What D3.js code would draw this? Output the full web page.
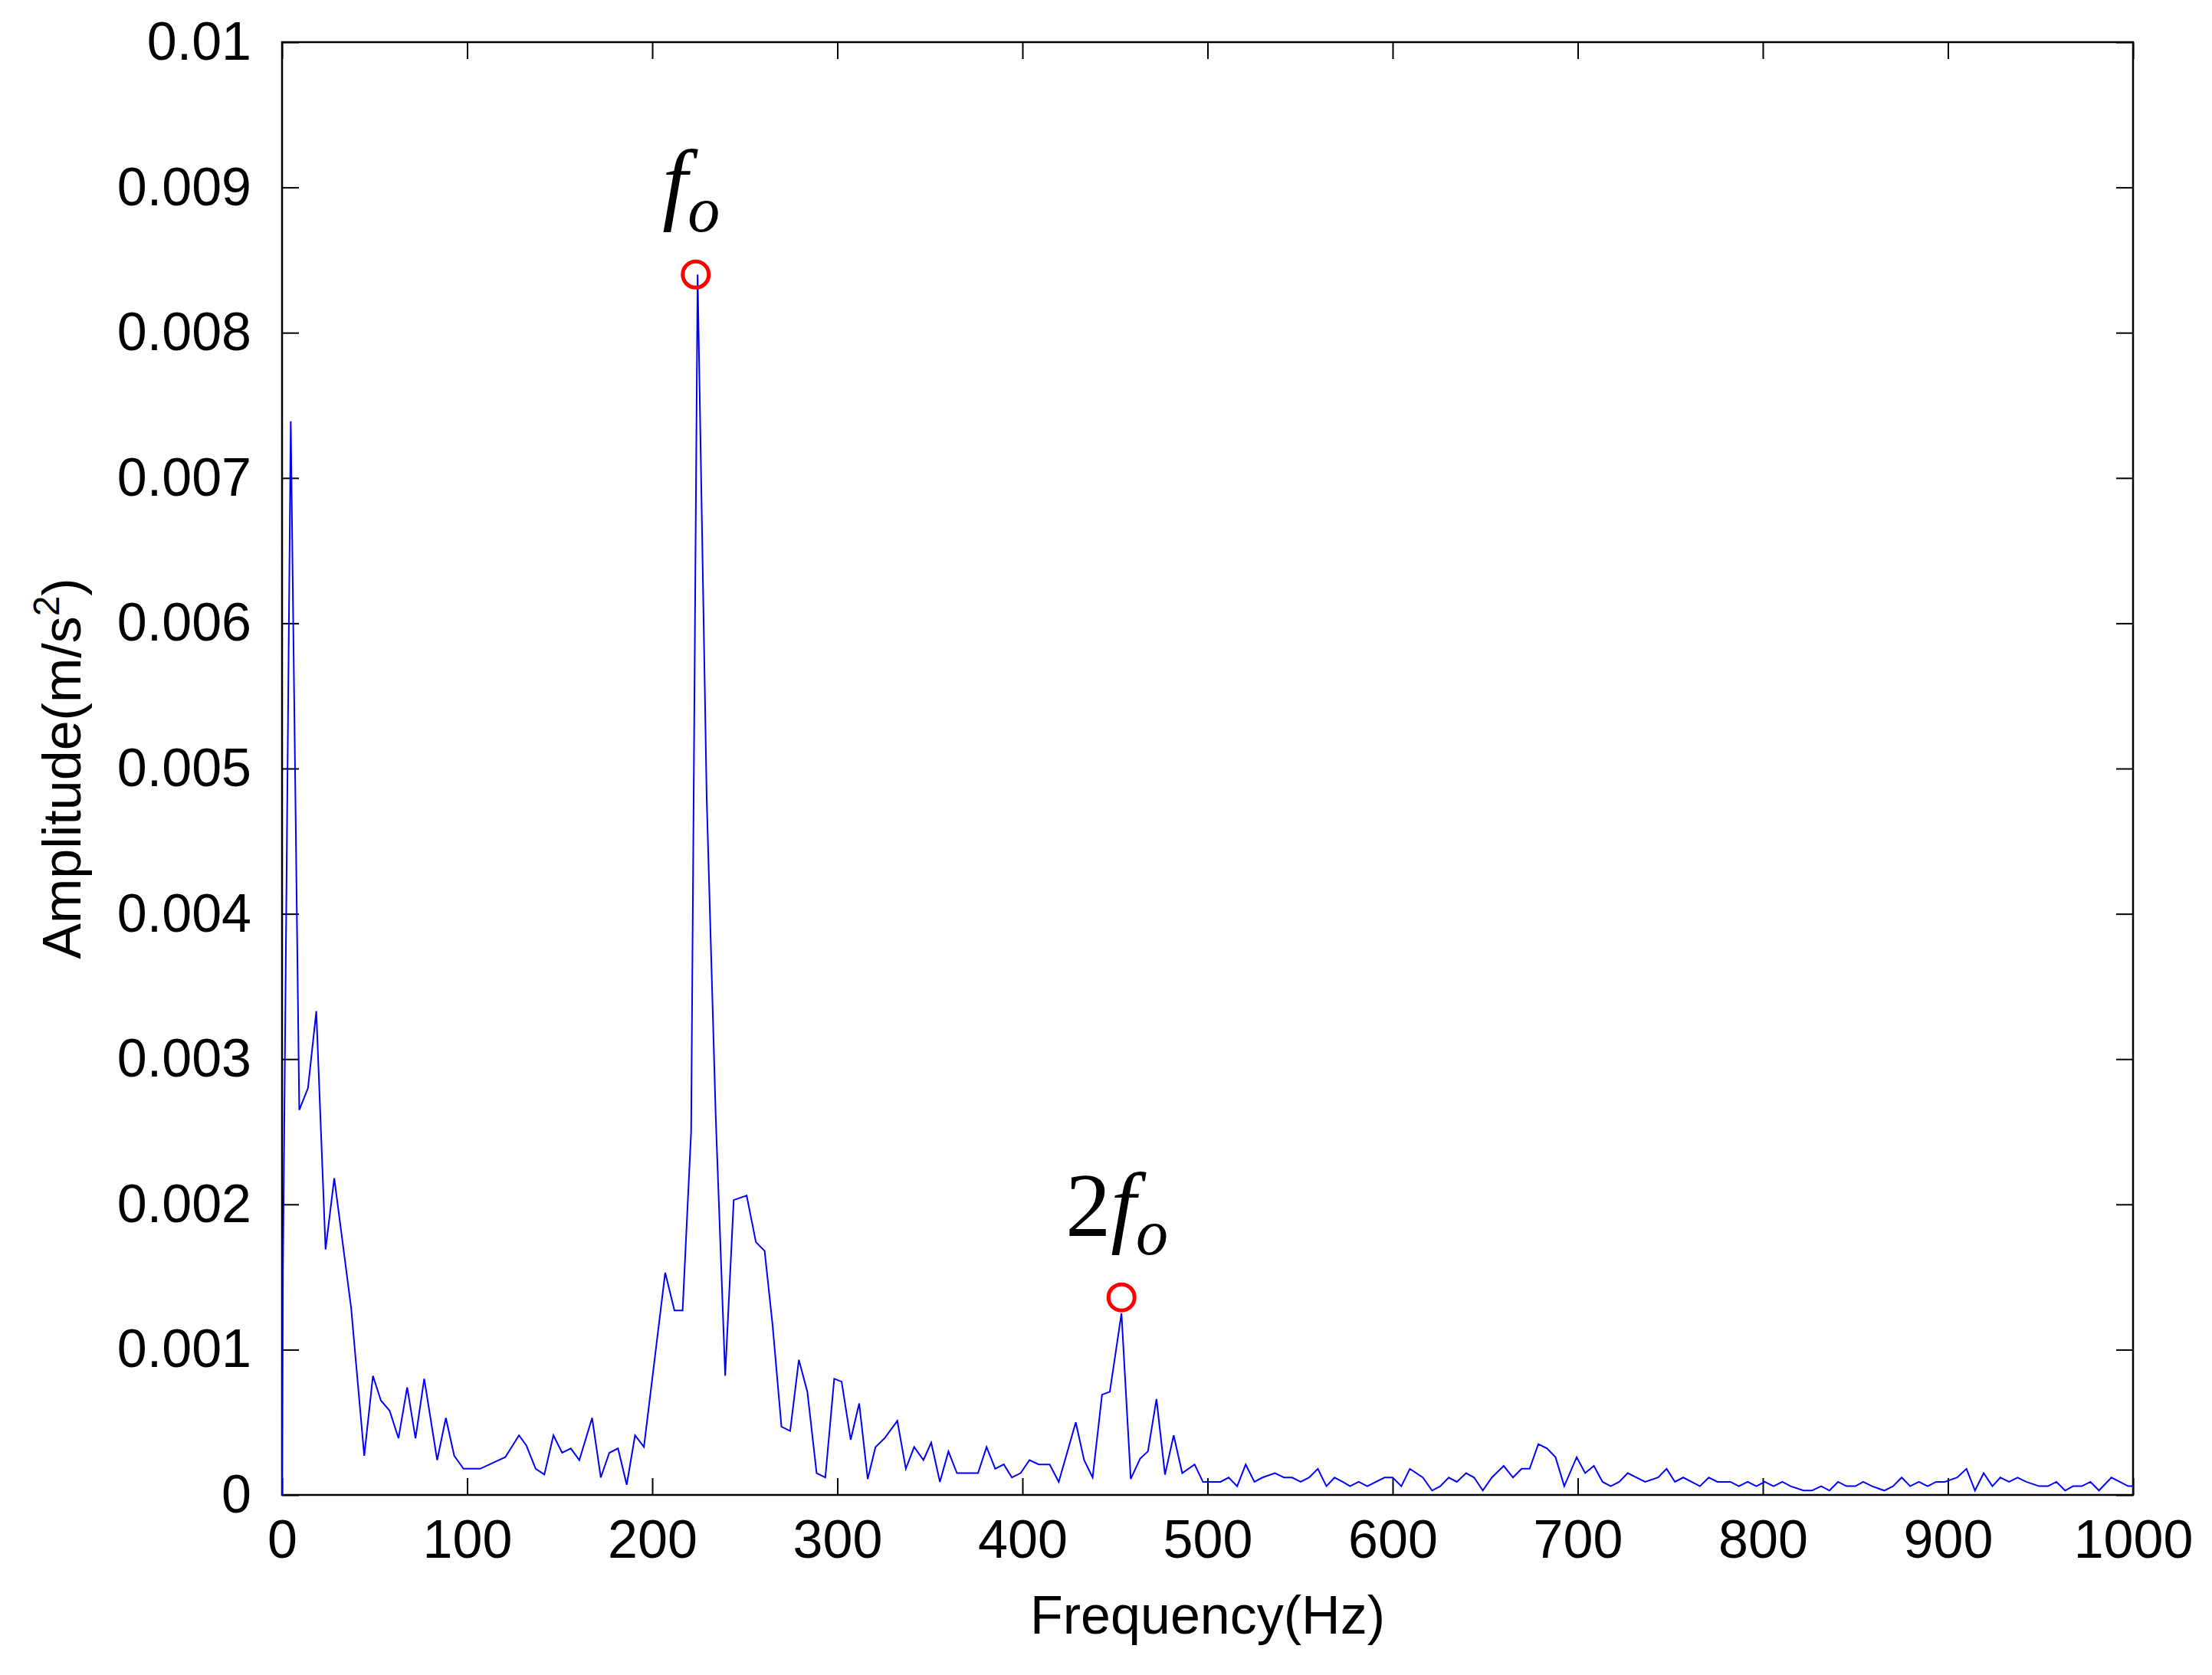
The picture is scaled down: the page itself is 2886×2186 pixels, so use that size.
<!DOCTYPE html>
<html>
<head>
<meta charset="UTF-8">
<style>
  * { margin: 0; padding: 0; overflow: hidden; }
  body { background: #fff; }
</style>
<script src="https://d3js.org/d3.v7.min.js"></script>
</head>
<body>
<script>
// frequency (Hz) and amplitude (m/s^2)
const freq = [0, 0.5, 4.7, 9.3, 14, 18.5, 23.5, 28.2, 37.3, 44.4, 49.1, 53.4, 58.1, 62.9, 67.6, 72.1, 76.8, 83.8, 88.5, 93, 98, 107, 120.6, 128, 132, 137, 141.7, 146.6, 151.3, 156, 160.6, 167.5, 172.2, 176.8, 181.5, 186.2, 190.7, 195.5, 207, 212, 216.4, 221, 224.5, 229.4, 234.3, 239.4, 244, 251, 256, 260.7, 265, 269.8, 274.5, 279.2, 283.8, 288.8, 293.5, 298.3, 302.3, 307.2, 311.8, 316.4, 320.6, 325.5, 332.4, 337, 341.5, 346.5, 350.7, 355.4, 360, 364.6, 376, 380.6, 385.3, 389.9, 394.3, 399, 403.8, 408.8, 414.7, 419.6, 428.8, 433.3, 437.9, 443, 447.2, 453.5, 458.5, 463.6, 467.8, 472.4, 477, 481.7, 486.3, 493, 497.5, 507, 511.4, 516, 520.6, 525.3, 529.7, 536.4, 541.3, 545.7, 550.3, 554.9, 559.6, 564.2, 568.6, 573, 577, 581.6, 586.3, 595.6, 600, 604.7, 609.3, 616.3, 621.3, 625.7, 630.3, 634.7, 639.7, 644, 648.7, 653.6, 660, 665, 669.7, 674, 678.7, 683.4, 688, 692.7, 699.4, 704, 708.7, 713.4, 717.8, 722.4, 727, 736.4, 743.4, 748, 752.5, 757, 766, 770.8, 775.5, 782.5, 787, 791.8, 796.5, 801, 805.8, 810.5, 815, 822, 826.5, 831.5, 836, 840.6, 845.2, 850, 854.2, 859, 865.6, 870.3, 875, 879.6, 884.3, 889, 893.6, 898.3, 905, 910, 914.6, 919.3, 924, 928.3, 933, 937.6, 942.3, 949.3, 954, 958.6, 963.3, 967.6, 972.3, 977, 981.6, 988.3, 997.4, 1000];
const amp = [0, 0.00157, 0.00739, 0.00265, 0.0028, 0.00333, 0.00169, 0.00218, 0.00129, 0.00027, 0.00082, 0.00065, 0.00058, 0.00039, 0.00074, 0.00039, 0.0008, 0.00024, 0.00053, 0.00027, 0.00018, 0.00018, 0.00026, 0.00041, 0.00034, 0.00018, 0.00014, 0.00041, 0.00029, 0.00032, 0.00024, 0.00053, 0.00012, 0.00029, 0.00032, 0.00007, 0.00041, 0.00033, 0.00153, 0.00127, 0.00127, 0.0025, 0.0084, 0.0048, 0.0026, 0.00082, 0.00203, 0.00206, 0.00174, 0.00168, 0.00117, 0.00047, 0.00044, 0.00093, 0.00071, 0.00015, 0.00012, 0.0008, 0.00078, 0.00038, 0.00063, 0.00011, 0.00033, 0.00039, 0.00051, 0.00018, 0.00033, 0.00024, 0.00036, 0.00009, 0.0003, 0.00015, 0.00015, 0.00033, 0.00018, 0.00021, 0.00012, 0.00015, 0.00024, 0.00021, 0.00021, 0.00009, 0.0005, 0.00024, 0.00012, 0.00069, 0.00071, 0.00125, 0.00011, 0.00025, 0.0003, 0.00066, 0.00014, 0.00041, 0.00015, 0.00021, 0.00009, 0.00009, 0.00012, 0.00006, 0.00021, 0.00009, 0.00012, 0.00015, 0.00012, 0.00012, 0.00009, 0.00012, 0.00018, 0.00006, 0.00012, 0.00009, 0.00006, 0.00009, 0.00006, 0.00012, 0.00012, 0.00006, 0.00018, 0.00012, 0.00003, 0.00006, 0.00012, 0.00009, 0.00015, 0.00012, 0.00003, 0.00012, 0.0002, 0.00012, 0.00018, 0.00018, 0.00035, 0.00032, 0.00026, 0.00006, 0.00026, 0.00015, 0.0002, 0.00009, 0.00006, 0.00009, 0.00015, 0.00009, 0.00012, 0.00018, 0.00009, 0.00012, 0.00006, 0.00012, 0.00009, 0.00009, 0.00006, 0.00009, 0.00006, 0.00009, 0.00006, 0.00009, 0.00006, 0.00003, 0.00003, 0.00006, 0.00003, 0.00009, 0.00006, 0.00006, 0.00009, 0.00006, 0.00003, 0.00006, 0.00012, 0.00006, 0.00009, 0.00006, 0.00009, 0.00009, 0.00012, 0.00018, 0.00003, 0.00015, 0.00006, 0.00012, 0.00009, 0.00012, 0.00009, 0.00006, 0.00006, 0.00009, 0.00003, 0.00006, 0.00006, 0.00009, 0.00003, 0.00012, 0.00006, 0.00006];

// marked peaks
const peakFreq = [223.5, 453.5];
const peakAmp = [0.0084, 0.00136];
const peakLabel = [["", "f", "o"], ["2", "f", "o"]];

const xTicks = d3.range(0, 1001, 100);
const yTicks = d3.range(0, 11).map(i => i / 1000);

const WIDTH = 2886, HEIGHT = 2186;
const M = { left: 368, right: 103, top: 55, bottom: 235 };

const svg = d3.select("body").append("svg")
  .attr("width", WIDTH).attr("height", HEIGHT);

const x = d3.scaleLinear().domain([0, 1000]).range([M.left, WIDTH - M.right]);
const y = d3.scaleLinear().domain([0, 0.01]).range([HEIGHT - M.bottom, M.top]);

const font = "Arial, 'Liberation Sans', sans-serif";
const tickLen = 22;

// frame
svg.append("rect")
  .attr("x", x(0)).attr("y", y(0.01))
  .attr("width", x(1000) - x(0)).attr("height", y(0) - y(0.01))
  .attr("fill", "none").attr("stroke", "#000").attr("stroke-width", 2.5);

const styleAxis = g => {
  g.select(".domain").remove();
  g.selectAll("line").attr("stroke", "#000").attr("stroke-width", 2);
  g.selectAll("text").attr("font-family", font).attr("font-size", 70).attr("fill", "#000");
};

svg.append("g").attr("transform", `translate(0,${y(0)})`)
  .call(d3.axisBottom(x).tickValues(xTicks).tickSizeInner(-tickLen).tickPadding(32).tickFormat(d3.format("d")))
  .call(styleAxis);
svg.append("g").attr("transform", `translate(0,${y(0.01)})`)
  .call(d3.axisTop(x).tickValues(xTicks).tickSizeInner(-tickLen).tickFormat(""))
  .call(styleAxis);
svg.append("g").attr("transform", `translate(${x(0)},0)`)
  .call(d3.axisLeft(y).tickValues(yTicks).tickSizeInner(-tickLen).tickPadding(40).tickFormat(d => d === 0 ? "0" : d3.format("")(+d.toFixed(3))))
  .call(styleAxis);
svg.append("g").attr("transform", `translate(${x(1000)},0)`)
  .call(d3.axisRight(y).tickValues(yTicks).tickSizeInner(-tickLen).tickFormat(""))
  .call(styleAxis);

// spectrum line
const pts = freq.map((f, i) => [f, amp[i]]);
svg.append("path")
  .datum(pts)
  .attr("fill", "none")
  .attr("stroke", "#0000ff")
  .attr("stroke-width", 2)
  .attr("d", d3.line().x(d => x(d[0])).y(d => y(d[1])));

// peak markers
peakFreq.forEach((f, i) => {
  svg.append("circle")
    .attr("cx", x(f)).attr("cy", y(peakAmp[i]))
    .attr("r", 17).attr("fill", "none")
    .attr("stroke", "#ff0000").attr("stroke-width", 5);
  const t = svg.append("text")
    .attr("x", x(f) - 6).attr("y", y(peakAmp[i]) - 80)
    .attr("text-anchor", "middle")
    .attr("font-family", "'Liberation Serif', 'DejaVu Serif', serif")
    .attr("font-size", 118).attr("fill", "#000");
  const [pre, base, sub] = peakLabel[i];
  if (pre) t.append("tspan").text(pre);
  t.append("tspan").attr("font-style", "italic").text(base);
  t.append("tspan").attr("font-style", "italic").attr("font-size", 84).attr("dy", 24).text(sub);
});

// axis titles
svg.append("text")
  .attr("x", (x(0) + x(1000)) / 2).attr("y", 2132)
  .attr("text-anchor", "middle")
  .attr("font-family", font).attr("font-size", 70)
  .text("Frequency(Hz)");

const yl = svg.append("text")
  .attr("transform", `translate(105,${(y(0) + y(0.01)) / 2}) rotate(-90)`)
  .attr("text-anchor", "middle")
  .attr("font-family", font).attr("font-size", 70);
yl.append("tspan").text("Amplitude(m/s");
yl.append("tspan").attr("font-size", 48).attr("dy", -28).text("2");
yl.append("tspan").attr("dy", 28).text(")");
</script>
</body>
</html>
